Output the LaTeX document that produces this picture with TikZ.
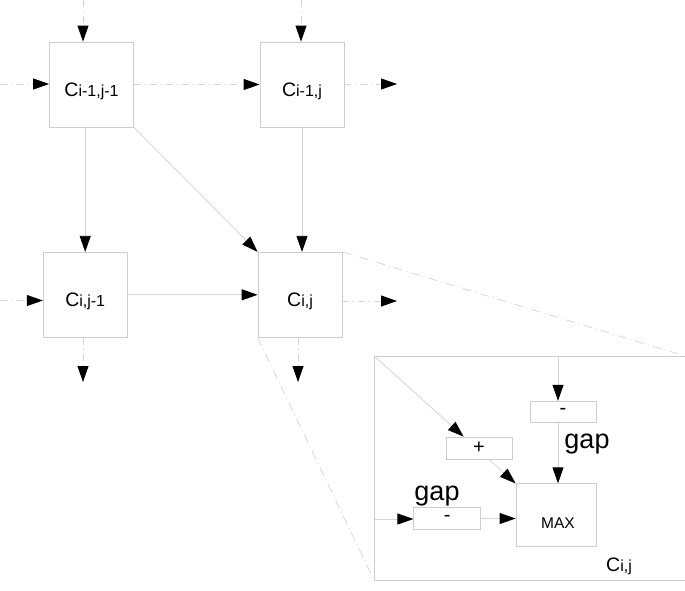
\documentclass[tikz,border=0pt]{standalone}
\usepackage{fontspec}
\setmainfont{Liberation Sans}
\usetikzlibrary{arrows.meta}
\newcommand\cellname[1]{{\fontsize{19.5}{19.5}\selectfont C}{\fontsize{16}{16}\selectfont #1}}
\definecolor{boxgray}{RGB}{205,205,205}
\definecolor{linegray}{RGB}{212,212,212}
\tikzset{
  cellbox/.style={draw=boxgray, line width=0.8pt, minimum width=84pt, minimum height=85pt, inner sep=0pt, text height=27pt, text depth=3pt},
  opbox/.style={draw=boxgray, line width=0.8pt, minimum width=66pt, minimum height=21pt, inner sep=0pt, font=\fontsize{20}{20}\selectfont},
  conn/.style={draw=linegray, line width=0.8pt, -{Triangle[length=16pt,width=11pt,color=black]}},
  dconn/.style={conn, dash pattern=on 7pt off 4pt on 1pt off 4pt},
  zoomline/.style={draw=linegray, line width=0.7pt, dash pattern=on 9pt off 4pt on 1pt off 4pt},
  frame/.style={draw=boxgray, line width=0.8pt},
  gaplabel/.style={font=\fontsize{27}{27}\selectfont, inner sep=0pt, anchor=base}
}
\begin{document}
\begin{tikzpicture}[x=1pt,y=-1pt]
\useasboundingbox[fill=white] (0,0) rectangle (685,590);
% cells
\node[cellbox] (A) at (91.5,84.5) {\cellname{i-1,j-1}};
\node[cellbox] (B) at (302,84.5) {\cellname{i-1,j}};
\node[cellbox] (D) at (85.2,294.8) {\cellname{i,j-1}};
\node[cellbox] (E) at (300,294.8) {\cellname{i,j}};
% free ends
\coordinate (tA) at (83,0);
\coordinate (lA) at (0,84);
\coordinate (tB) at (301,0);
\coordinate (oB) at (397,84);
\coordinate (lD) at (0,300.5);
\coordinate (oE) at (397,301);
\coordinate (bD) at (83,382);
\coordinate (bE) at (298,382);
% inputs / outputs
\draw[dconn] (tA) -- (tA |- A.north);
\draw[dconn] (lA) -- (lA -| A.west);
\draw[dconn] (tB) -- (tB |- B.north);
\draw[dconn] (oB -| B.east) -- (oB);
\draw[dconn] (lD) -- (lD -| D.west);
\draw[dconn] (oE -| E.east) -- (oE);
\draw[dconn] (bD |- D.south) -- (bD);
\draw[dconn] (bE |- E.south) -- (bE);
% internal
\draw[dconn] (A.east) -- (A.east -| B.west);
\draw[conn] (D.north |- A.south) -- (D.north);
\draw[conn] (A.south east) -- (E.north west);
\draw[conn] (B.south) -- (B.south |- E.north);
\draw[conn] (D.east) -- (D.east -| E.west);
% inset frame
\coordinate (I1) at (374,356);
\coordinate (I2) at (685,356);
\coordinate (I3) at (374,580);
\coordinate (I4) at (685,580);
\draw[frame] (I2) -- (I1) -- (I3) -- (I4);
\draw[zoomline] (E.north east) -- (I2);
\draw[zoomline] (E.south west) -- (I3);
% inset content
\node[opbox] (m1) at (563,411.7) {-};
\node[opbox, minimum height=22pt] (pl) at (479,448) {+};
\node[opbox, minimum width=67pt, minimum height=22pt] (m2) at (447.3,518.5) {-};
\node[draw=boxgray, line width=0.8pt, minimum width=80pt, minimum height=63pt, inner sep=0pt, text height=27pt, text depth=0pt, font=\fontsize{15.5}{15.5}\selectfont] (mx) at (556,515.3) {\hspace{4pt}MAX};
\coordinate (iT) at (558,356);
\coordinate (iL) at (374,519);
\draw[conn] (iT) -- (iT |- m1.north);
\draw[conn] (iT |- m1.south) -- (iT |- mx.north);
\draw[conn] (I1) -- (intersection of I1--mx.north west and pl.north west--pl.north east);
\draw[conn] (intersection of I1--mx.north west and pl.south west--pl.south east) -- (mx.north west);
\draw[conn] (iL) -- (iL -| m2.west);
\draw[conn] (m2.east) -- (m2.east -| mx.west);
\node[gaplabel] (g1) at (587,448) {gap};
\node[gaplabel] (g2) at (437,500) {gap};
\node[inner sep=0pt, anchor=base] (cl) at (619,571) {\cellname{i,j}};
\end{tikzpicture}
\end{document}
